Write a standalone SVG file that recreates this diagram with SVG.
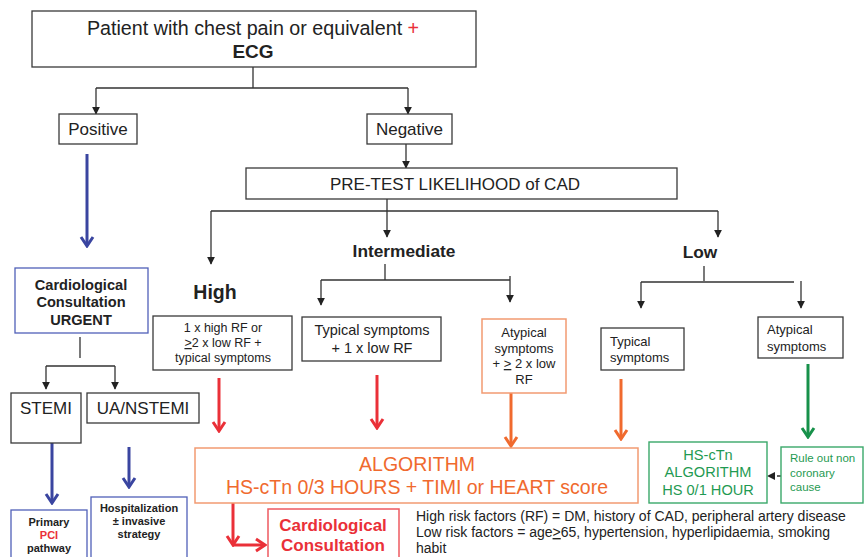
<svg xmlns="http://www.w3.org/2000/svg" width="864" height="557" viewBox="0 0 864 557">
<defs>
<style>
text{font-family:"Liberation Sans",Arial,sans-serif;fill:#222;}
.box{fill:#fff;stroke:#3a3a3a;stroke-width:1.3;}
.bbox{fill:#fff;stroke:#5060b8;stroke-width:1.3;}
.obox{fill:#fff;stroke:#f29a72;stroke-width:1.5;}
.rbox{fill:#fff;stroke:#ee5a60;stroke-width:1.5;}
.gbox{fill:#fff;stroke:#3aa86a;stroke-width:1.4;}
.ln{fill:none;stroke:#333;stroke-width:1.3;}
.lna{fill:none;stroke:#333;stroke-width:1.3;marker-end:url(#ab);}
.blue{fill:none;stroke:#3a45a0;stroke-width:3;marker-end:url(#cb);}
.red{fill:none;stroke:#ea3038;stroke-width:3;marker-end:url(#cr);}
.org{fill:none;stroke:#f06a2e;stroke-width:3;marker-end:url(#co);}
.grn{fill:none;stroke:#17914a;stroke-width:3;marker-end:url(#cg);}
.t{text-anchor:middle;}
.b{font-weight:bold;}
text.tr,tspan.tr{fill:#ea3038;}
text.to{fill:#f06a2e;}
text.tg{fill:#1f9a52;}
</style>
<marker id="ab" viewBox="0 0 10 10" refX="9" refY="5" markerWidth="8" markerHeight="8" markerUnits="userSpaceOnUse" orient="auto"><path d="M0,0 L10,5 L0,10 z" fill="#222"/></marker>
<marker id="cb" viewBox="-12 -8 14 16" refX="0" refY="0" markerWidth="14" markerHeight="16" markerUnits="userSpaceOnUse" orient="auto"><path d="M-9,-6 L0,0 L-9,6" fill="none" stroke="#3a45a0" stroke-width="3"/></marker>
<marker id="cr" viewBox="-12 -8 14 16" refX="0" refY="0" markerWidth="14" markerHeight="16" markerUnits="userSpaceOnUse" orient="auto"><path d="M-9,-6 L0,0 L-9,6" fill="none" stroke="#ea3038" stroke-width="3"/></marker>
<marker id="co" viewBox="-12 -8 14 16" refX="0" refY="0" markerWidth="14" markerHeight="16" markerUnits="userSpaceOnUse" orient="auto"><path d="M-9,-6 L0,0 L-9,6" fill="none" stroke="#f06a2e" stroke-width="3"/></marker>
<marker id="cg" viewBox="-12 -8 14 16" refX="0" refY="0" markerWidth="14" markerHeight="16" markerUnits="userSpaceOnUse" orient="auto"><path d="M-9,-6 L0,0 L-9,6" fill="none" stroke="#17914a" stroke-width="3"/></marker>
</defs>
<rect width="864" height="557" fill="#fff"/>

<g id="connectors">
<path class="ln" d="M253,67 V88 M96,88 H408"/>
<path class="lna" d="M96,88 V114"/>
<path class="lna" d="M408,88 V114"/>
<path class="lna" d="M406,144 V168"/>
<path class="ln" d="M387,199 V211 M211,211 H718"/>
<path class="lna" d="M211,211 V264"/>
<path class="lna" d="M387,211 V237"/>
<path class="lna" d="M718,211 V237"/>
<path class="ln" d="M385,264 V280 M321,280 H510 M510,276 V280"/>
<path class="lna" d="M321,280 V305"/>
<path class="lna" d="M510,280 V302"/>
<path class="ln" d="M704,266 V281 M641,282 H794 M801,281 V282"/>
<path class="lna" d="M641,282 V308"/>
<path class="lna" d="M801,282 V308"/>
<path class="ln" d="M80,337 V358 M46,366 H115"/>
<path class="lna" d="M46,366 V389"/>
<path class="lna" d="M115,366 V389"/>
<path class="blue" d="M87,154 V246"/>
<path class="blue" d="M52,432 V503"/>
<path class="blue" d="M129,447 V487"/>
<path class="red" d="M219,378 V431"/>
<path class="red" d="M377,375 V428"/>
<path class="org" d="M511,393 V446"/>
<path class="org" d="M621,379 V439"/>
<path class="grn" d="M808,364 V437"/>
<path class="red" d="M233,503 V545"/>
<path class="red" d="M233,545 H265"/>
<path fill="none" stroke="#333" stroke-width="1.3" stroke-dasharray="4,3" d="M781,476 H772"/>
<path d="M767,476 L775,472 L775,480 z" fill="#222"/>
</g>

<g id="n-start">
<rect class="box" x="32" y="11" width="444" height="56"/>
<text class="t" x="253" y="35" font-size="19.7">Patient with chest pain or equivalent <tspan class="tr">+</tspan></text>
<text class="t b" x="253" y="58" font-size="19">ECG</text>
</g>
<g id="n-positive">
<rect class="box" x="59" y="114" width="78" height="30"/>
<text class="t" x="98" y="135" font-size="17">Positive</text>
</g>
<g id="n-negative">
<rect class="box" x="367" y="114" width="85" height="30"/>
<text class="t" x="409.5" y="135" font-size="17">Negative</text>
</g>
<g id="n-pretest">
<rect class="box" x="246" y="168" width="431" height="31"/>
<text class="t" x="455" y="190" font-size="17">PRE-TEST LIKELIHOOD of CAD</text>
</g>
<g id="n-high"><text class="t b" x="215" y="299" font-size="19.5">High</text></g>
<g id="n-intermediate"><text class="t b" x="404" y="257" font-size="17.3">Intermediate</text></g>
<g id="n-low"><text class="t b" x="700" y="258" font-size="17.3">Low</text></g>

<g id="n-urgent">
<rect class="bbox" x="15" y="268" width="133" height="65"/>
<text class="t b" x="81" y="290" font-size="14.6">Cardiological</text>
<text class="t b" x="81" y="307" font-size="14.6">Consultation</text>
<text class="t b" x="81" y="325" font-size="14.6">URGENT</text>
</g>
<g id="n-stemi">
<rect class="box" x="11" y="393" width="70" height="50"/>
<text class="t" x="46" y="414" font-size="17">STEMI</text>
</g>
<g id="n-nstemi">
<rect class="box" x="87" y="393" width="112" height="30"/>
<text class="t" x="143" y="414" font-size="17">UA/NSTEMI</text>
</g>
<g id="n-pci">
<rect class="bbox" x="11" y="510" width="76" height="52"/>
<text class="t b" x="49" y="526" font-size="11">Primary</text>
<text class="t b tr" x="49" y="539" font-size="11">PCI</text>
<text class="t b" x="49" y="552" font-size="11">pathway</text>
</g>
<g id="n-hosp">
<rect class="bbox" x="91" y="497" width="96" height="65"/>
<text class="t b" x="139" y="512" font-size="11">Hospitalization</text>
<text class="t b" x="139" y="525" font-size="11">± invasive</text>
<text class="t b" x="139" y="538" font-size="11">strategy</text>
</g>

<g id="n-highrf">
<rect class="box" x="153" y="316" width="139" height="54"/>
<text class="t" x="223" y="332" font-size="12.5">1 x high RF or</text>
<text class="t" x="223" y="347" font-size="12.5"><tspan text-decoration="underline">&gt;</tspan>2 x low RF +</text>
<text class="t" x="223" y="362" font-size="12.5">typical symptoms</text>
</g>
<g id="n-inttyp">
<rect class="box" x="302" y="317" width="139" height="44"/>
<text class="t" x="372" y="335" font-size="14.5">Typical symptoms</text>
<text class="t" x="372" y="353" font-size="14.5">+ 1 x low RF</text>
</g>
<g id="n-intatyp">
<rect class="obox" x="482" y="319" width="84" height="74"/>
<text class="t" x="524" y="337" font-size="13">Atypical</text>
<text class="t" x="524" y="353" font-size="13">symptoms</text>
<text class="t" x="524" y="368" font-size="13">+ <tspan text-decoration="underline">&gt;</tspan> 2 x low</text>
<text class="t" x="524" y="384" font-size="13">RF</text>
</g>
<g id="n-lowtyp">
<rect class="box" x="601" y="328" width="83" height="42"/>
<text x="610" y="346" font-size="13">Typical</text>
<text x="610" y="362" font-size="13">symptoms</text>
</g>
<g id="n-lowatyp">
<rect class="box" x="758" y="317" width="85" height="41"/>
<text x="767" y="334" font-size="13">Atypical</text>
<text x="767" y="351" font-size="13">symptoms</text>
</g>

<g id="n-algorithm">
<rect class="obox" x="195" y="448" width="443" height="55"/>
<text class="t to" x="417" y="471" font-size="19.5">ALGORITHM</text>
<text class="t to" x="417" y="494" font-size="19.5">HS-cTn 0/3 HOURS + TIMI or HEART score</text>
</g>
<g id="n-hs01">
<rect class="gbox" x="649" y="442" width="118" height="61"/>
<text class="t tg" x="708" y="460" font-size="14.6">HS-cTn</text>
<text class="t tg" x="708" y="477" font-size="14.6">ALGORITHM</text>
<text class="t tg" x="708" y="495" font-size="14.6">HS 0/1 HOUR</text>
</g>
<g id="n-ruleout">
<rect class="gbox" x="781" y="447" width="82" height="56"/>
<text class="tg" x="790" y="462" font-size="11.5">Rule out non</text>
<text class="tg" x="790" y="477" font-size="11.5">coronary</text>
<text class="tg" x="790" y="491" font-size="11.5">cause</text>
</g>
<g id="n-cardio">
<rect class="rbox" x="268" y="509" width="131" height="55"/>
<text class="t b tr" x="333" y="531" font-size="17">Cardiological</text>
<text class="t b tr" x="333" y="551" font-size="17">Consultation</text>
</g>
<g id="n-notes">
<text x="416" y="521" font-size="14">High risk factors (RF) = DM, history of CAD, peripheral artery disease</text>
<text x="416" y="537" font-size="14">Low risk factors = age<tspan text-decoration="underline">&gt;</tspan>65, hypertension, hyperlipidaemia, smoking</text>
<text x="416" y="553" font-size="14">habit</text>
</g>
</svg>
